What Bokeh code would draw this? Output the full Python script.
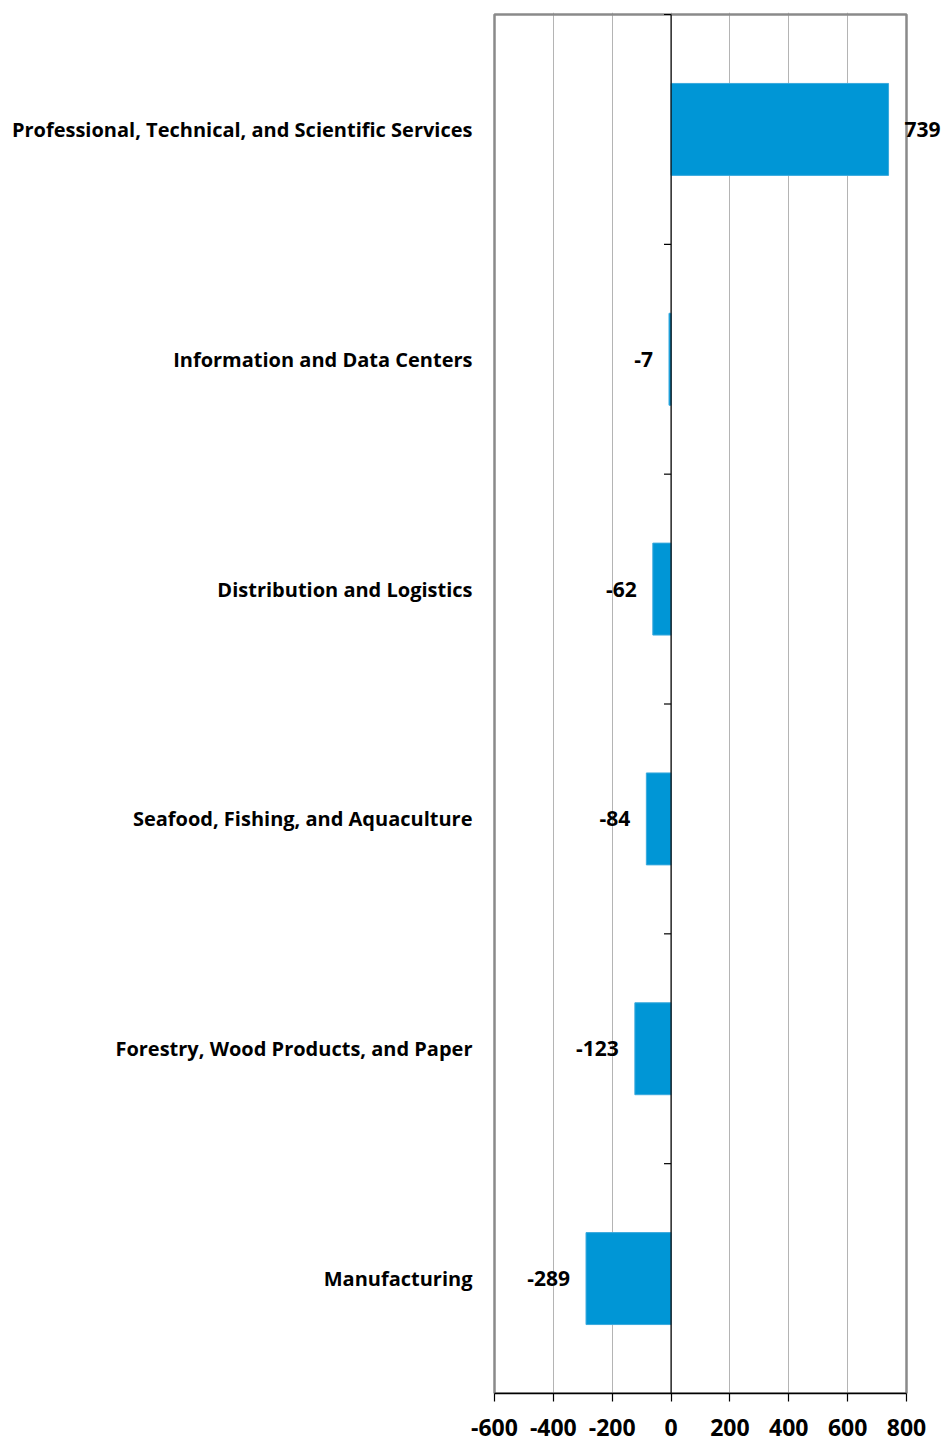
from bokeh.plotting import figure
from bokeh.models import (ColumnDataSource, Range1d, FixedTicker, LabelSet)
from bokeh.core.properties import value
from bokeh.embed import file_html
from bokeh.resources import INLINE

# Employment change by industry cluster
categories = [
    "Professional, Technical, and Scientific Services",
    "Information and Data Centers",
    "Distribution and Logistics",
    "Seafood, Fishing, and Aquaculture",
    "Forestry, Wood Products, and Paper",
    "Manufacturing",
]
values = [739, -7, -62, -84, -123, -289]
x_ticks = [-600, -400, -200, 0, 200, 400, 600, 800]

FONT = "Open Sans"
BAR = "#0096D6"
FRAME = "#8a8a8a"

W, H = 948, 1448
# pixel extents of the boxed plot area
BOX_L, BOX_R, BOX_T, BOX_B = 494, 906, 14, 1393
PAD = 2  # room so the box edges are not clipped

n = len(categories)
ypos = [n - i - 0.5 for i in range(n)]  # first category at the top

# data range extended past the box so value labels beyond it stay visible
x0, x1 = x_ticks[0], x_ticks[-1]
upx = (x1 - x0) / (BOX_R - BOX_L)
upy = n / (BOX_B - BOX_T)
x_start = x0 - PAD * upx
x_end = x1 + (W - BOX_R) * upx
y_end = n + PAD * upy

src = ColumnDataSource(dict(
    y=ypos,
    val=values,
    label=[str(v) for v in values],
    align=["left" if v >= 0 else "right" for v in values],
    xoff=[16 if v >= 0 else -16 for v in values],
))

p = figure(width=W, height=H,
           x_range=Range1d(x_start, x_end),
           y_range=Range1d(0, y_end),
           output_backend="svg", toolbar_location=None,
           min_border_left=BOX_L - PAD, min_border_right=0,
           min_border_top=BOX_T - PAD, min_border_bottom=H - BOX_B)

p.outline_line_color = None
p.background_fill_color = "white"
p.border_fill_color = "white"

# vertical gridlines
p.xgrid.ticker = FixedTicker(ticks=x_ticks[1:-1])
p.xgrid.grid_line_color = "#b4b4b4"
p.xgrid.grid_line_width = 1
p.ygrid.grid_line_color = None

# box around the plot area
p.quad(left=[x0], right=[x1], bottom=[0], top=[n], fill_color=None,
       line_color=FRAME, line_width=2.5)

# bottom axis
p.xaxis.bounds = (x0, x1)
p.xaxis.ticker = FixedTicker(ticks=x_ticks)
p.xaxis.major_label_overrides = {t: str(t) for t in x_ticks}
p.xaxis.axis_line_color = "black"
p.xaxis.axis_line_width = 1.5
p.xaxis.major_tick_line_color = "black"
p.xaxis.major_tick_line_width = 1.2
p.xaxis.major_tick_out = 8
p.xaxis.major_tick_in = 0
p.xaxis.minor_tick_line_color = None
p.xaxis.major_label_text_font = FONT
p.xaxis.major_label_text_font_style = "bold"
p.xaxis.major_label_text_font_size = "23px"
p.xaxis.major_label_text_color = "black"
p.xaxis.major_label_standoff = 17

# category labels on the left
p.yaxis.ticker = FixedTicker(ticks=ypos)
p.yaxis.major_label_overrides = {y: c for y, c in zip(ypos, categories)}
p.yaxis.axis_line_color = None
p.yaxis.major_tick_line_color = None
p.yaxis.minor_tick_line_color = None
p.yaxis.major_label_text_font = FONT
p.yaxis.major_label_text_font_style = "bold"
p.yaxis.major_label_text_font_size = "20px"
p.yaxis.major_label_text_color = "black"
p.yaxis.major_label_standoff = 14

# bars
p.hbar(y="y", left=0, right="val", height=0.4, source=src,
       fill_color=BAR, line_color="#3aa9dd", line_width=1)

# zero line with category-boundary ticks
p.segment(x0=[0], x1=[0], y0=[0], y1=[n], line_color="black", line_width=1.2)
bounds = list(range(n + 1))
p.segment(x0=[-24] * len(bounds), x1=[0] * len(bounds),
          y0=bounds, y1=bounds, line_color="black", line_width=1.2)

# value labels
labels = LabelSet(x="val", y="y", text="label", source=src,
                  x_offset="xoff", text_align="align",
                  text_baseline="middle", text_font=value(FONT),
                  text_font_style="bold", text_font_size="21px",
                  text_color="black")
p.add_layout(labels)

open("out.html", "w").write(file_html(p, INLINE))
